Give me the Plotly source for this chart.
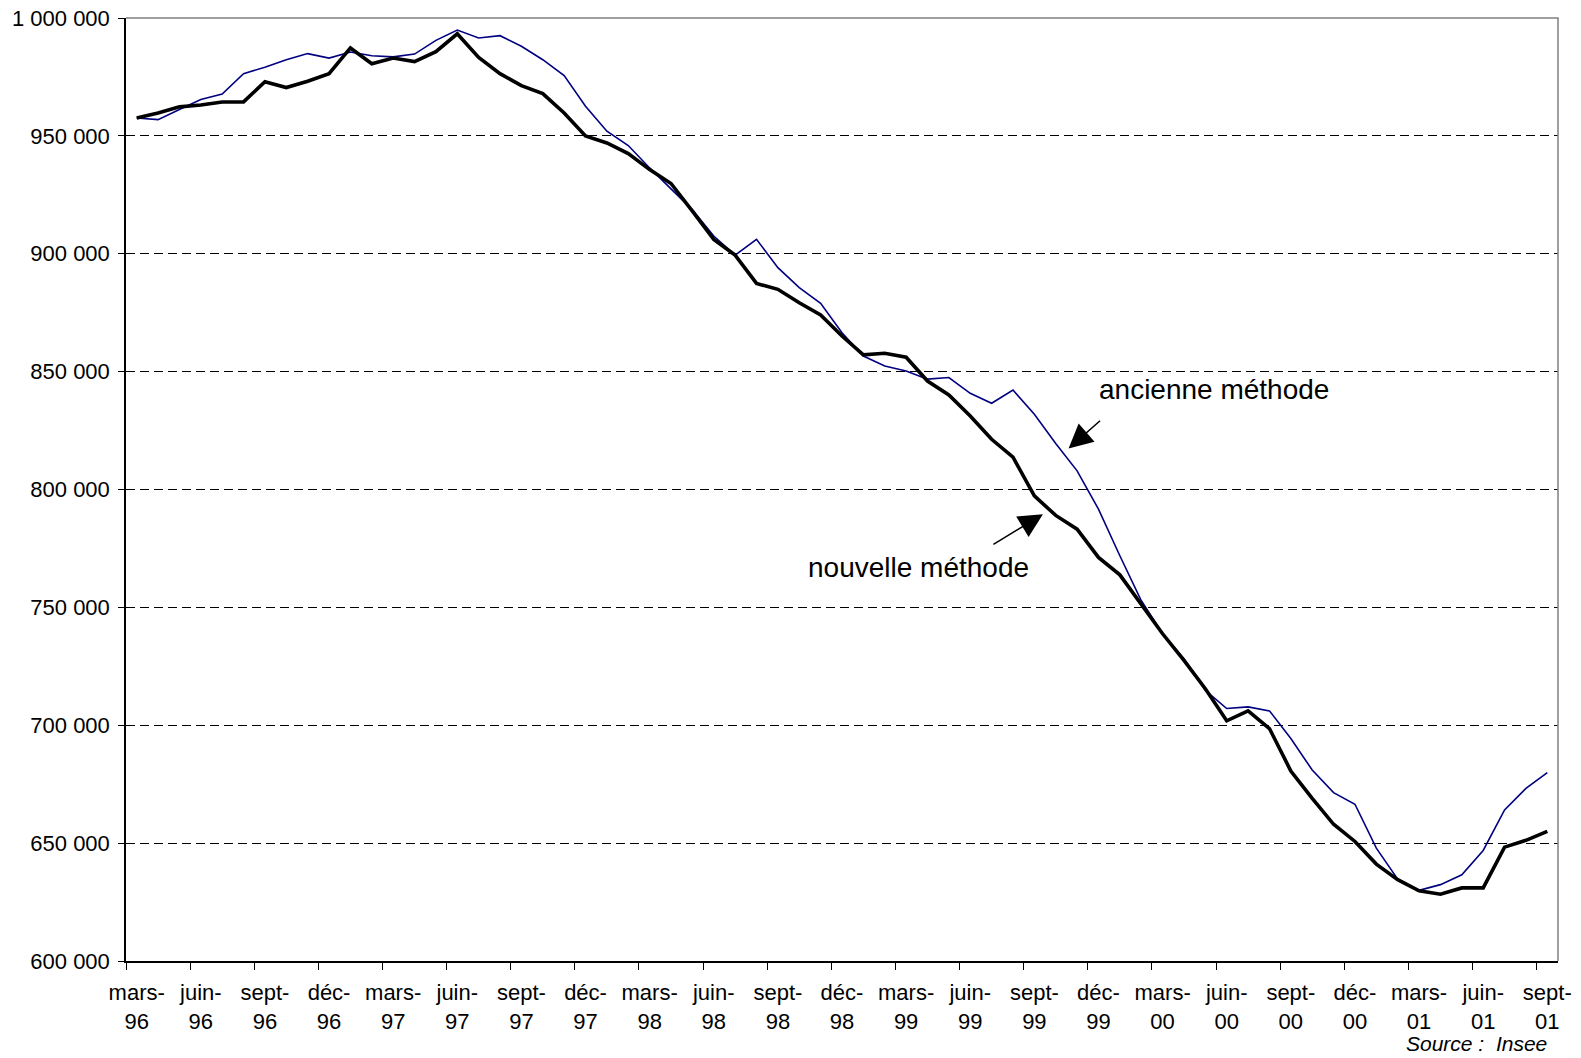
import plotly.graph_objects as go

# monthly series, mars-96 .. sept-01
ancienne = [957600, 956900, 961200, 965400, 967700, 976400, 979100, 982300, 984900, 983000,
            985600, 984000, 983500, 984700, 990500, 994900, 991500, 992500, 988000, 982300,
            975600, 962600, 952000, 945900, 936400, 927500, 918600, 907500, 899400, 906100,
            894100, 885600, 879000, 866500, 856600, 852400, 850300, 846800, 847500, 840800,
            836600, 842200, 831900, 819500, 807900, 791700, 771900, 752900, 738800, 728200,
            714800, 707100, 707800, 706100, 694400, 681000, 671400, 666500, 647900, 634700,
            630000, 632400, 636600, 646900, 664100, 673200, 679900]

nouvelle = [957600, 959700, 962300, 963100, 964400, 964400, 973000, 970500, 973200, 976400,
            987300, 980600, 983000, 981500, 985700, 993300, 983300, 976400, 971300, 967900,
            959700, 950000, 947000, 942500, 935700, 929800, 918100, 906100, 899400, 887400,
            884900, 879200, 874000, 865100, 857100, 857800, 856100, 846000, 840100, 831200,
            821300, 813700, 797300, 789000, 783200, 771200, 763800, 751500, 738800, 727500,
            715500, 701900, 706100, 698600, 680600, 669000, 658000, 650700, 641100, 634500,
            629800, 628300, 631000, 631000, 648300, 651200, 655000]

tick_labels = ["mars-<br>96", "juin-<br>96", "sept-<br>96", "déc-<br>96",
               "mars-<br>97", "juin-<br>97", "sept-<br>97", "déc-<br>97",
               "mars-<br>98", "juin-<br>98", "sept-<br>98", "déc-<br>98",
               "mars-<br>99", "juin-<br>99", "sept-<br>99", "déc-<br>99",
               "mars-<br>00", "juin-<br>00", "sept-<br>00", "déc-<br>00",
               "mars-<br>01", "juin-<br>01", "sept-<br>01"]

y_ticks = [600000, 650000, 700000, 750000, 800000, 850000, 900000, 950000, 1000000]
y_labels = ["600 000", "650 000", "700 000", "750 000", "800 000", "850 000",
            "900 000", "950 000", "1 000 000"]

x = list(range(len(nouvelle)))
tick_pos = x[::3]
bound_pos = [p - 0.5 for p in tick_pos]

font = "Liberation Sans, Arial, sans-serif"

fig = go.Figure()
fig.add_trace(go.Scatter(x=x, y=ancienne, mode="lines", name="ancienne méthode",
                         line=dict(color="#000080", width=1.6)))
fig.add_trace(go.Scatter(x=x, y=nouvelle, mode="lines", name="nouvelle méthode",
                         line=dict(color="black", width=3.6)))

fig.update_layout(
    width=1581, height=1058,
    margin=dict(l=126, r=23, t=18, b=97),
    paper_bgcolor="white", plot_bgcolor="white",
    showlegend=False,
    font=dict(family=font, size=22, color="black"),
)

fig.update_xaxes(
    range=[-0.5, len(x) - 0.5], automargin=False,
    tickmode="array", tickvals=tick_pos, ticktext=tick_labels,
    ticks="", showgrid=False, zeroline=False,
    showline=True, linecolor="black", linewidth=1.5,
    ticklabelstandoff=11,
    minor=dict(tickmode="array", tickvals=bound_pos, ticks="outside",
               ticklen=7, tickcolor="black", tickwidth=1.3, showgrid=False),
)

fig.update_yaxes(
    range=[600000, 1000000], automargin=False,
    tickmode="array", tickvals=y_ticks, ticktext=y_labels,
    ticks="outside", ticklen=6, tickcolor="black", tickwidth=1.3,
    showgrid=True, gridcolor="black", gridwidth=1, griddash="9px,5px",
    zeroline=False, showline=True, linecolor="black", linewidth=1.5,
    ticklabelstandoff=4,
)

# gray frame top/right
fig.add_shape(type="path", xref="paper", yref="paper",
              path="M 0,1 L 1,1 L 1,0", line=dict(color="#808080", width=1.5), layer="above")

fig.add_annotation(x=50.4, y=842500, text="ancienne méthode", showarrow=False,
                   font=dict(size=28))
fig.add_annotation(x=43.6, y=817400, ax=33, ay=-29, text="", showarrow=True,
                   arrowhead=2, arrowsize=3.2, arrowwidth=1.5, arrowcolor="black", standoff=0)
fig.add_annotation(x=36.6, y=767100, text="nouvelle méthode", showarrow=False,
                   font=dict(size=28))
fig.add_annotation(x=42.4, y=789500, ax=-51, ay=31, text="", showarrow=True,
                   arrowhead=2, arrowsize=3.2, arrowwidth=1.5, arrowcolor="black", standoff=0)

fig.add_annotation(xref="paper", yref="paper", x=1, y=-0.087, xshift=-9,
                   xanchor="right", yanchor="middle", showarrow=False,
                   text="<i>Source :  Insee</i>", font=dict(size=21))

# drop the default 8px body margin so the figure fills the window
fig.write_html("out.html", config={"displayModeBar": False},
               post_script="document.body.style.margin = '0px';")
